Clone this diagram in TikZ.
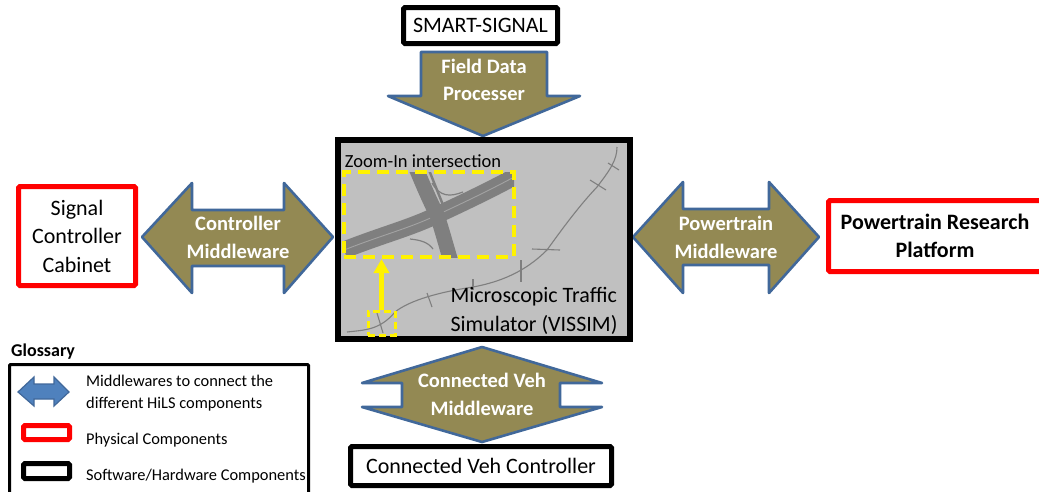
\documentclass[tikz,border=0pt]{standalone}
\usepackage{fontspec}
\setmainfont{Carlito}
\usetikzlibrary{arrows.meta}
\definecolor{olivefill}{HTML}{938953}
\definecolor{blueline}{HTML}{41689A}
\definecolor{bluefill}{HTML}{4F81BD}
\definecolor{simgray}{HTML}{C0C0C0}
\definecolor{roadgray}{HTML}{7F7F7F}
\begin{document}
\begin{tikzpicture}[x=1pt,y=-1pt,
blackbox/.style={draw=black, line width=5pt, rounded corners=1.5pt, align=center, inner sep=0pt},
redbox/.style={draw=red, line width=5pt, rounded corners=1.5pt, align=center, inner sep=0pt},
middleware/.style={draw=blueline, line width=2.6pt, fill=olivefill, line join=round},
mwlabel/.style={text=white, align=center, font=\fontsize{20.5}{27.5}\selectfont\bfseries},
smalltext/.style={anchor=west, align=left, inner sep=0pt, font=\fontsize{16.4}{22}\selectfont},
zoombox/.style={draw=yellow, dashed, inner sep=0pt},
minor/.style={draw=roadgray, line width=1.1pt}]

\clip (0,0) rectangle (1039,491);
\fill[white] (0,0) rectangle (1039,491);

% middlewares
\draw[middleware] (421,52)--(547,52)--(547,96)--(580,96)--(483,136)--(388,96)--(421,96)--cycle;
\draw[middleware] (142,237)--(192,183)--(192,210)--(284,210)--(284,183)--(333,237)--(284,293)--(284,266)--(192,266)--(192,293)--cycle;
\draw[middleware] (633,237)--(683,182)--(683,209)--(769,209)--(769,182)--(819,237)--(769,293)--(769,265)--(683,265)--(683,293)--cycle;
\draw[middleware] (482,347)--(602,383)--(560,383)--(560,407)--(602,407)--(482,442)--(362,407)--(402,407)--(402,383)--(362,383)--cycle;

\node[mwlabel] (fielddata) at (484,80) {Field Data\\Processer};
\node[mwlabel] (controllermw) at (238,237.5) {Controller\\Middleware};
\node[mwlabel] (powertrainmw) at (726,237.5) {Powertrain\\Middleware};
\node[mwlabel] (connectedmw) at (482,394.5) {Connected Veh\\Middleware};

% components
\node[blackbox, minimum width=154pt, minimum height=36pt, font=\fontsize{22}{26}\selectfont] (smart) at (480.5,25.5) {SMART-SIGNAL};
\node[blackbox, minimum width=261pt, minimum height=39pt, font=\fontsize{22}{26}\selectfont] (connected) at (481,466) {Connected Veh Controller};
\node[redbox, minimum width=117pt, minimum height=99pt, font=\fontsize{22}{28.5}\selectfont] (cabinet) at (77,236) {Signal\\Controller\\Cabinet};
\node[redbox, minimum width=213pt, minimum height=71pt, font=\fontsize{22}{28}\selectfont\bfseries] (platform) at (935,236) {Powertrain Research\\Platform};

% simulator
\node[draw=black, fill=simgray, line width=6pt, minimum width=292pt, minimum height=199pt, inner sep=0pt] (vissim) at (484,239.5) {};

\draw[minor] (347,332) .. controls (365,330) and (380,330) .. (395,312) .. controls (410,300) and (440,292) .. (473,287) .. controls (500,282) and (525,272) .. (547,250) .. controls (565,225) and (580,205) .. (597,187) .. controls (610,170) and (617,160) .. (617,147);
\draw[minor] (377,313)--(383,333);
\draw[minor] (427,293)--(432,307);
\draw[minor] (473,279)--(473,290);
\draw[minor] (521,260)--(521,282);
\draw[minor] (532,249)--(560,250);
\draw[minor] (590,180)--(606,190);
\draw[minor] (608,163)--(619,170);

\begin{scope}
\clip (344,172) rectangle (514,257);
\draw[roadgray, line width=17pt] (344,250) .. controls (385,234) and (410,228) .. (437,215) .. controls (465,202) and (490,190) .. (516,176);
\draw[simgray!85!black, line width=0.9pt] (344,250) .. controls (385,234) and (410,228) .. (437,215) .. controls (465,202) and (490,190) .. (516,176);
\draw[roadgray, line width=15pt] (416,168) .. controls (425,190) and (432,205) .. (437,215) .. controls (442,230) and (446,245) .. (451,262);
\draw[roadgray, line width=2.5pt] (429,170)--(443,205);
\draw[roadgray, line width=1.2pt] (432,183) .. controls (440,197) and (450,197) .. (463,192);
\draw[roadgray, line width=1.2pt] (410,239) .. controls (420,240) and (428,242) .. (433,249);
\end{scope}

\node[zoombox, line width=4pt, dash pattern=on 12pt off 7pt, minimum width=170pt, minimum height=85pt] (bigzoom) at (429,214.5) {};
\node[zoombox, line width=3pt, dash pattern=on 7pt off 4pt, minimum width=27pt, minimum height=24pt] (smallzoom) at (381.5,323) {};
\draw[yellow, line width=5pt, -{Triangle[width=15pt,length=14pt]}] (smallzoom.north)--(smallzoom.north|-bigzoom.south);

\node[inner sep=0pt, font=\fontsize{18.5}{22}\selectfont] (zoomlabel) at (423,161) {Zoom-In intersection};
\node[inner sep=0pt, align=left, font=\fontsize{22}{29}\selectfont] (simlabel) at (534,311) {Microscopic Traffic\\Simulator (VISSIM)};

% glossary
\node[anchor=west, inner sep=0pt, font=\fontsize{18}{20}\selectfont\bfseries] (glossarytitle) at (11,352) {Glossary};
\node[draw=black, line width=3pt, rounded corners=1pt, minimum width=299pt, minimum height=135.5pt, inner sep=0pt] (glossary) at (159,432.25) {};
\draw[draw=blueline, line width=1.2pt, fill=bluefill] (18,392)--(34,377)--(34,384)--(54,384)--(54,377)--(69,392)--(54,406)--(54,399)--(34,399)--(34,406)--cycle;
\node[redbox, minimum width=46pt, minimum height=14pt] (physicalkey) at (46.5,432.5) {};
\node[blackbox, minimum width=46pt, minimum height=15pt] (softwarekey) at (46.5,471) {};
\node[smalltext] (mwtext) at (86,393) {Middlewares to connect the\\different HiLS components};
\node[smalltext] (physicaltext) at (86,440) {Physical Components};
\node[smalltext] (softwaretext) at (86,476) {Software/Hardware Components};
\end{tikzpicture}
\end{document}
